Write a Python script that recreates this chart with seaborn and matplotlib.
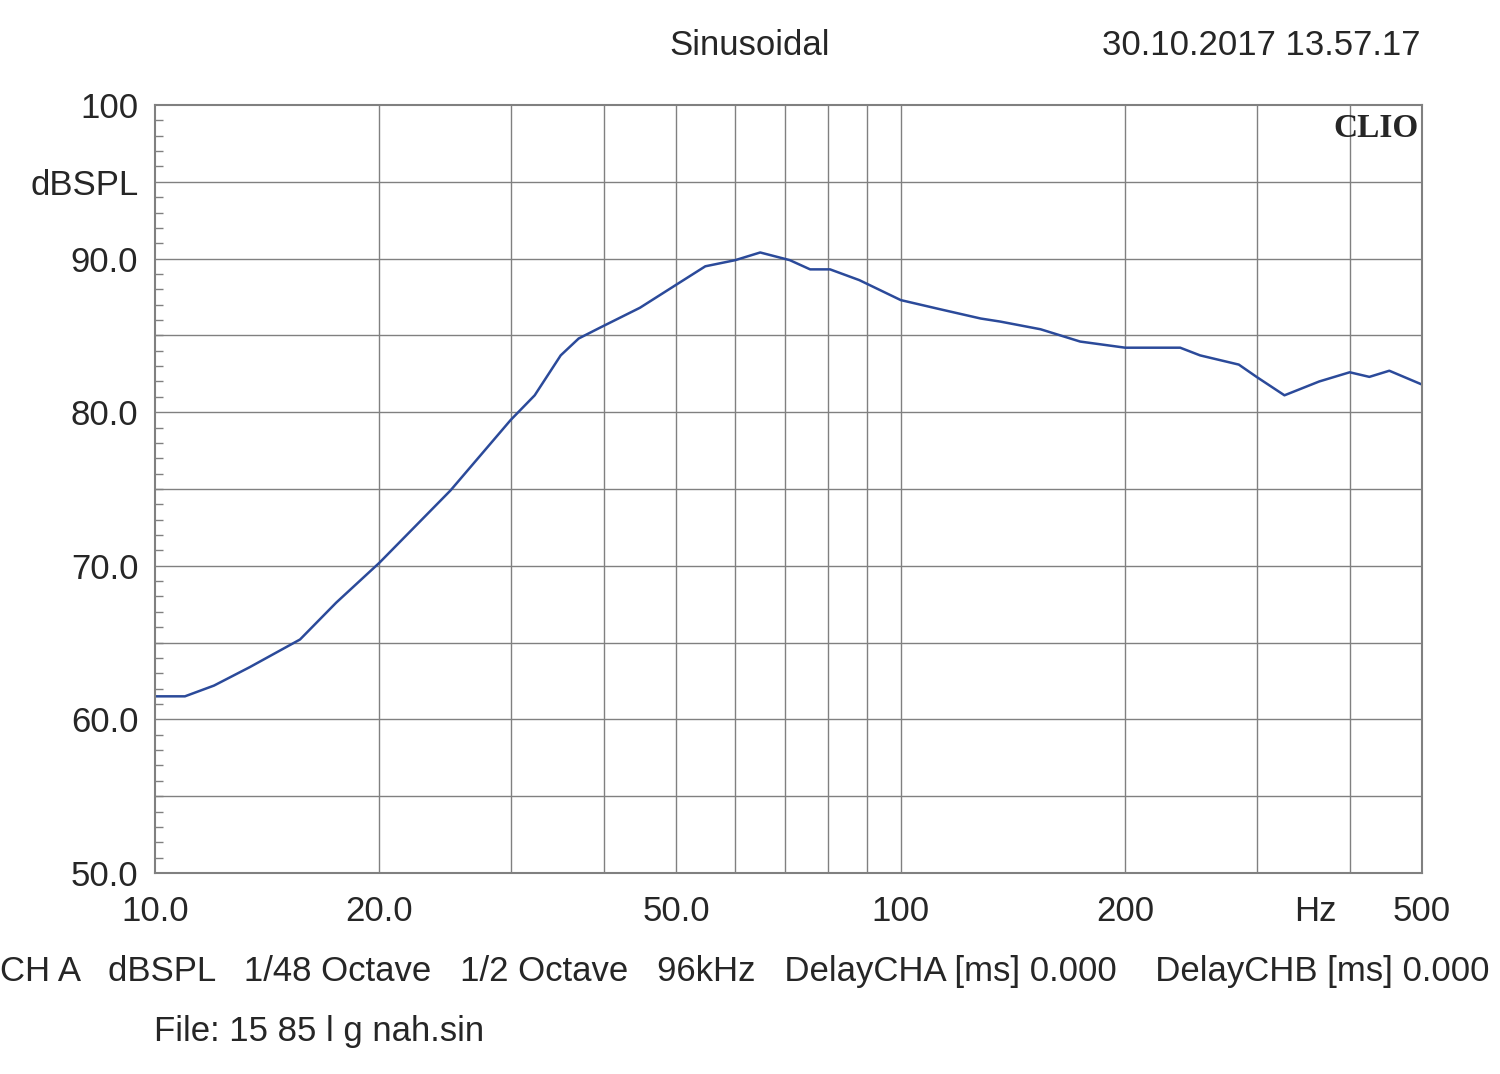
import numpy as np
import pandas as pd
import matplotlib
matplotlib.use("Agg")
import matplotlib.pyplot as plt
import seaborn as sns

sns.set_theme(style="white")
plt.rcParams['font.family'] = ['Liberation Sans', 'DejaVu Sans']

# frequency response
freq_hz = [10.0, 10.97, 12.0, 13.4, 15.65, 17.5, 20.0, 24.9, 30.0, 32.3, 35.0, 37.0, 39.5, 44.7, 50.0,
           54.7, 60.0, 64.8, 71.0, 75.6, 80.4, 88.0, 100, 113, 128, 136, 154, 174,
           200, 237, 252, 284, 300, 327, 364, 400, 425, 452, 500]
spl_db = [61.5, 61.5, 62.2, 63.4, 65.2, 67.6, 70.2, 74.9, 79.5, 81.1, 83.7, 84.8, 85.5, 86.8, 88.3,
          89.5, 89.9, 90.4, 89.9, 89.3, 89.3, 88.6, 87.3, 86.7, 86.1, 85.9, 85.4, 84.6,
          84.2, 84.2, 83.7, 83.1, 82.3, 81.1, 82.0, 82.6, 82.3, 82.7, 81.8]

x_ticks = [10, 20, 50, 100, 200, 360, 500]
x_labels = ["10.0", "20.0", "50.0", "100", "200", "Hz", "500"]
y_ticks = [50, 60, 70, 80, 90, 95, 100]
y_labels = ["50.0", "60.0", "70.0", "80.0", "90.0", "dBSPL", "100"]

df = pd.DataFrame({"f": freq_hz, "spl": spl_db})

fig = plt.figure(figsize=(15, 10.74), dpi=100)
ax = fig.add_axes([0.1033, 0.1872, 0.8447, 0.715])

grid_x = [20, 30, 40, 50, 60, 70, 80, 90, 100, 200, 300, 400]
for gx in grid_x:
    ax.axvline(gx, color="#808080", lw=1, zorder=0)
for gy in np.arange(55, 100, 5):
    ax.axhline(gy, color="#808080", lw=1, zorder=0)

sns.lineplot(data=df, x="f", y="spl", ax=ax, color="#2b4a9a", lw=1.8)

fs = 25
ax.set_xscale("log")
ax.set_xlim(10, 500)
ax.set_ylim(50, 100)
ax.set_xticks(x_ticks)
ax.set_xticklabels(x_labels, fontsize=fs)
ax.minorticks_off()
ax.set_yticks(y_ticks)
ax.set_yticklabels(y_labels, fontsize=fs)
ax.set_yticks(np.arange(50, 100, 1), minor=True)
ax.tick_params(axis="y", which="minor", direction="in", length=6, left=True, color="#808080")
ax.tick_params(axis="x", which="major", length=0, pad=16)
ax.tick_params(axis="y", which="major", length=0, pad=12)
ax.set_xlabel("")
ax.set_ylabel("")
for s in ax.spines.values():
    s.set_color("#808080")
    s.set_linewidth(1.5)

ax.text(0.997, 0.99, "CLIO", transform=ax.transAxes, ha="right", va="top",
        fontsize=24, fontweight="bold", family="Liberation Serif")

fig.text(0.5, 0.958, "Sinusoidal", ha="center", va="center", fontsize=fs)
fig.text(0.947, 0.958, "30.10.2017 13.57.17", ha="right", va="center", fontsize=fs)
fig.text(0.0, 0.095, "CH A   dBSPL   1/48 Octave   1/2 Octave   96kHz   DelayCHA [ms] 0.000    DelayCHB [ms] 0.000",
         ha="left", va="center", fontsize=fs)
fig.text(0.103, 0.04, "File: 15 85 l g nah.sin", ha="left", va="center", fontsize=fs)

fig.savefig("out.png", dpi=100, facecolor="white")
